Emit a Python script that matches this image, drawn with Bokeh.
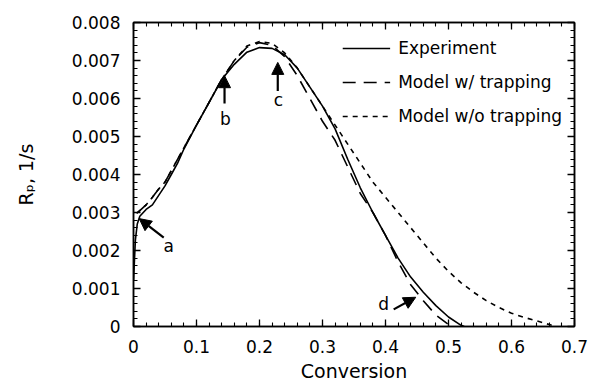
from bokeh.plotting import figure
from bokeh.models import (LinearAxis, FixedTicker, CustomJSTickFormatter, Range1d,
                          Arrow, NormalHead, Label, Legend, LegendItem)
from bokeh.embed import file_html
from bokeh.resources import INLINE

# ---- data ----
exp_x = [0, 0.003, 0.006, 0.01, 0.02, 0.03, 0.04, 0.05, 0.06, 0.07, 0.08, 0.1, 0.12, 0.14,
         0.16, 0.18, 0.2, 0.22, 0.24, 0.26, 0.28, 0.3, 0.32, 0.34, 0.36, 0.38, 0.4, 0.42,
         0.44, 0.46, 0.48, 0.5, 0.52, 0.525]
exp_y = [0.0012, 0.00228, 0.0027, 0.0029, 0.00308, 0.0032, 0.00345, 0.0037, 0.0040, 0.0043,
         0.00467, 0.0053, 0.0059, 0.0065, 0.0069, 0.00722, 0.00734, 0.00732, 0.00715, 0.0068,
         0.0063, 0.0058, 0.0052, 0.0044, 0.00365, 0.0030, 0.0024, 0.0018, 0.0013, 0.0009,
         0.00055, 0.00025, 0.00003, 0.0]

trap_x = [0.005, 0.01, 0.02, 0.03, 0.04, 0.05, 0.06, 0.08, 0.1, 0.12, 0.14, 0.16, 0.18, 0.2,
          0.22, 0.24, 0.26, 0.28, 0.3, 0.32, 0.34, 0.36, 0.38, 0.4, 0.42, 0.44, 0.46, 0.48,
          0.5]
trap_y = [0.00298, 0.00305, 0.0032, 0.0034, 0.00362, 0.0038, 0.0041, 0.0047, 0.0053, 0.0059,
          0.0065, 0.0070, 0.00735, 0.00747, 0.0074, 0.0071, 0.0066, 0.0060, 0.0054, 0.0049,
          0.0042, 0.0035, 0.0030, 0.0024, 0.0017, 0.0011, 0.00068, 0.0003, 0.00005]

notrap_x = [0.005, 0.01, 0.02, 0.03, 0.04, 0.05, 0.06, 0.08, 0.1, 0.12, 0.14, 0.16, 0.18, 0.2,
            0.22, 0.24, 0.26, 0.28, 0.3, 0.32, 0.34, 0.36, 0.38, 0.4, 0.42, 0.44, 0.46, 0.48,
            0.5, 0.52, 0.54, 0.56, 0.58, 0.6, 0.62, 0.64, 0.66, 0.67]
notrap_y = [0.00298, 0.00305, 0.0032, 0.0034, 0.00362, 0.0038, 0.0041, 0.0047, 0.0053, 0.0059,
            0.0065, 0.0070, 0.00738, 0.0075, 0.00745, 0.0072, 0.0068, 0.0063, 0.0058, 0.0053,
            0.0048, 0.0043, 0.0038, 0.0034, 0.0030, 0.0026, 0.0022, 0.0018, 0.00145, 0.00115,
            0.0009, 0.00068, 0.0005, 0.00035, 0.00024, 0.00015, 0.00005, 0.0]

series_names = ["Experiment", "Model w/ trapping", "Model w/o trapping"]

x_ticks = [0, 0.1, 0.2, 0.3, 0.4, 0.5, 0.6, 0.7]
y_ticks = [0, 0.001, 0.002, 0.003, 0.004, 0.005, 0.006, 0.007, 0.008]
x_minor = [round(i * 0.02, 2) for i in range(36)]
y_minor = [round(i * 0.0002, 4) for i in range(41)]

# annotation arrows: (tail_x, tail_y, tip_x, tip_y) and letters
arrow_tails_x = [0.048, 0.1445, 0.229, 0.413]
arrow_tails_y = [0.00234, 0.00587, 0.0062, 0.00045]
arrow_tips_x = [0.009, 0.1445, 0.229, 0.448]
arrow_tips_y = [0.00284, 0.0066, 0.00695, 0.00077]
letters = ["a", "b", "c", "d"]
letter_x = [0.056, 0.146, 0.23, 0.397]
letter_y = [0.00213, 0.00547, 0.00595, 0.0006]

FONT = "DejaVu Sans"

p = figure(width=591, height=387, output_backend="svg", toolbar_location=None,
           x_range=Range1d(0, 0.7), y_range=Range1d(0, 0.008),
           min_border_left=133, min_border_right=17, min_border_top=22, min_border_bottom=61)
p.xgrid.visible = False
p.ygrid.visible = False
p.outline_line_color = "black"
p.outline_line_width = 1.5

xt = FixedTicker(ticks=x_ticks, minor_ticks=x_minor)
yt = FixedTicker(ticks=y_ticks, minor_ticks=y_minor)
xf = CustomJSTickFormatter(code="return tick == 0 ? '0' : tick.toFixed(1);")
yf = CustomJSTickFormatter(code="return tick == 0 ? '0' : tick.toFixed(3);")
blank = CustomJSTickFormatter(code="return '';")

def style_axis(ax):
    ax.axis_line_color = "black"
    ax.axis_line_width = 1.5
    ax.major_tick_in = 7
    ax.major_tick_out = 0
    ax.minor_tick_in = 4
    ax.minor_tick_out = 0
    ax.major_tick_line_width = 1.3
    ax.minor_tick_line_width = 1.1
    ax.major_label_text_font = FONT
    ax.major_label_text_font_size = "17px"
    ax.major_label_text_color = "black"
    ax.axis_label_text_font = FONT
    ax.axis_label_text_font_size = "19px"
    ax.axis_label_text_font_style = "normal"
    ax.axis_label_text_color = "black"

p.xaxis.ticker = xt
p.xaxis.formatter = xf
p.yaxis.ticker = yt
p.yaxis.formatter = yf
style_axis(p.xaxis[0])
style_axis(p.yaxis[0])
p.xaxis.major_label_standoff = 13
p.xaxis.axis_label = "Conversion"
p.xaxis.axis_label_standoff = 4
p.yaxis.major_label_standoff = 13
p.yaxis.axis_label = "R\u209a, 1/s"
p.yaxis.axis_label_standoff = 32

top = LinearAxis(ticker=xt, formatter=blank, major_label_standoff=0)
style_axis(top)
p.add_layout(top, "above")
right = LinearAxis(ticker=yt, formatter=blank, major_label_standoff=0)
style_axis(right)
p.add_layout(right, "right")

r_exp = p.line(exp_x, exp_y, line_color="black", line_width=1.6)
r_trap = p.line(trap_x, trap_y, line_color="black", line_width=1.6, line_dash="13 8")
r_notrap = p.line(notrap_x, notrap_y, line_color="black", line_width=1.6, line_dash="5 5")

legend = Legend(items=[LegendItem(label=series_names[0], renderers=[r_exp]),
                       LegendItem(label=series_names[1], renderers=[r_trap]),
                       LegendItem(label=series_names[2], renderers=[r_notrap])],
                location="top_right", border_line_color=None, background_fill_alpha=0,
                glyph_width=48, glyph_height=28, label_height=28, label_standoff=8,
                spacing=6, padding=0, margin=12,
                label_text_font=FONT, label_text_font_size="17px", label_text_color="black")
p.add_layout(legend, "center")

for tx, ty, hx, hy in zip(arrow_tails_x, arrow_tails_y, arrow_tips_x, arrow_tips_y):
    p.add_layout(Arrow(x_start=tx, y_start=ty, x_end=hx, y_end=hy, line_width=2.2,
                       line_color="black",
                       end=NormalHead(size=12, fill_color="black", line_color="black")))

for t, lx, ly in zip(letters, letter_x, letter_y):
    p.add_layout(Label(x=lx, y=ly, text=t, text_font=FONT, text_font_size="17px",
                       text_align="center", text_baseline="middle", text_color="black"))

open("out.html", "w").write(file_html(p, INLINE))
